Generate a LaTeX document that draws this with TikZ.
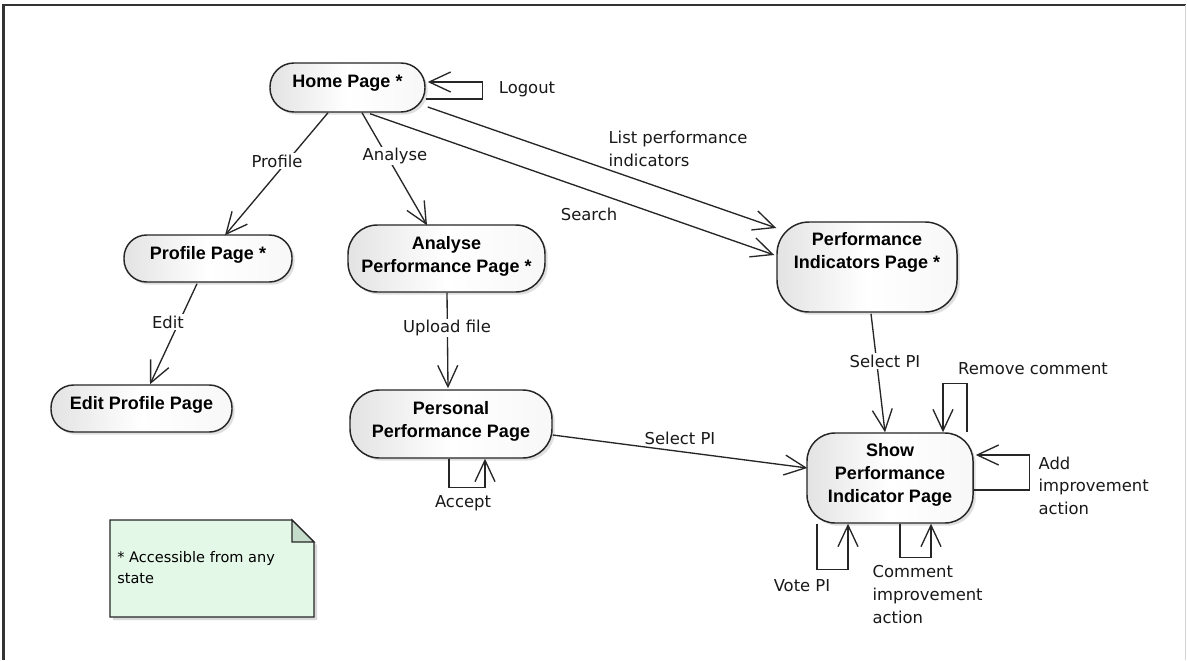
\documentclass[tikz,border=0pt]{standalone}
\usepackage{fontspec}
\setmainfont{DejaVu Sans}
\newfontfamily\statefont{Liberation Sans}
\usetikzlibrary{arrows.meta,calc,shadows}

\definecolor{linegray}{HTML}{262626}
\definecolor{notefill}{HTML}{E4F8E8}
\definecolor{notefold}{HTML}{C6DCCB}

\tikzset{
  state/.style={draw=linegray, line width=1.1pt, inner sep=0pt,
    left color=gray!22, right color=gray!6, middle color=white,
    drop shadow={shadow xshift=2pt, shadow yshift=-2pt, opacity=0.25, fill=gray}},
  statetext/.style={anchor=north, inner sep=0pt, align=center,
    font=\statefont\bfseries\fontsize{13.5}{17.25}\selectfont, text=black},
  lbl/.style={fill=white, inner sep=1pt, align=left,
    font=\fontsize{12.3}{16.9}\selectfont, text=black!90},
  trans/.style={draw=linegray, line width=1pt,
    -{Straight Barb[length=16pt, width=15pt, line width=1pt]}},
}

\begin{document}
\begin{tikzpicture}[x=0.75pt, y=-0.75pt]
  \useasboundingbox (0,0) rectangle (1187,660);
  \fill[white] (0,0) rectangle (1187,660);

  % outer frame
  \draw[line width=1.6pt, black!80] (3.5,660) -- (3.5,5) -- (1186,5);
  \draw[line width=0.8pt, gray!35] (1185.5,5) -- (1185.5,660);

  % states
  \node[state, minimum width=116.25pt, minimum height=36.75pt, rounded corners=18pt] (home) at (347.5,87.5) {};
  \node[state, minimum width=126pt, minimum height=35.25pt, rounded corners=17pt] (prof) at (208,258.5) {};
  \node[state, minimum width=135.75pt, minimum height=35.25pt, rounded corners=17pt] (edit) at (141.5,408.5) {};
  \node[state, minimum width=147.75pt, minimum height=50.25pt, rounded corners=22pt] (anal) at (446.5,258.5) {};
  \node[state, minimum width=151.5pt, minimum height=51pt, rounded corners=22pt] (pers) at (451,424) {};
  \node[state, minimum width=135pt, minimum height=67.5pt, rounded corners=24pt] (pis) at (867,267) {};
  \node[state, minimum width=124.5pt, minimum height=67.5pt, rounded corners=21pt] (show) at (890,478) {};

  % state names
  \node[statetext] (home-t) at ($(home.north)+(0,13)$) {Home Page *};
  \node[statetext] (prof-t) at ($(prof.north)+(0,12)$) {Profile Page *};
  \node[statetext] (edit-t) at ($(edit.north)+(0,11.5)$) {Edit Profile Page};
  \node[statetext] (anal-t) at ($(anal.north)+(0,11.5)$) {Analyse\\Performance Page *};
  \node[statetext] (pers-t) at ($(pers.north)+(0,11.5)$) {Personal\\Performance Page};
  \node[statetext] (pis-t) at ($(pis.north)+(0,10.5)$) {Performance\\Indicators Page *};
  \node[statetext] (show-t) at ($(show.north)+(0,11)$) {Show\\Performance\\Indicator Page};

  % transitions
  \draw[trans] ($(home.south)+(-19.5,0)$) -- ($(prof.north)+(17,1)$);
  \draw[trans] ($(home.south)+(14.5,0)$) -- ($(anal.north)+(-19.5,1)$);
  \draw[trans] ($(home.east)+(2,19.5)$) -- ($(pis.west)+(0,-39)$);
  \draw[trans] ($(home.south)+(22.5,1)$) -- ($(pis.west)+(-2,-12)$);
  \draw[trans] ($(home.east)+(0,11.5)$) -- ++(57,0) -- ++(0,-17) -- ($(home.east)+(2,-5.5)$);
  \draw[trans] ($(prof.south)+(-11,1)$) -- ($(edit.north)+(8.5,0)$);
  \draw[trans] ($(anal.south)+(0.5,0)$) -- ($(pers.north)+(-3,-1)$);
  \draw[trans] ($(pers.east)+(0,11)$) -- ($(show.west)+(1,-10)$);
  \draw[trans] ($(pers.south)+(-2,0)$) -- ++(0,29) -- ++(36,0) -- ($(pers.south)+(34,0)$);
  \draw[trans] ($(pis.south)+(4,1)$) -- ($(show.north)+(-5,0)$);
  \draw[trans] ($(show.north)+(77,0)$) -- ++(0,-49) -- ++(-24,0) -- ($(show.north)+(53,0)$);
  \draw[trans] ($(show.east)+(0,12)$) -- ++(56,0) -- ++(0,-35) -- ($(show.east)+(2,-23)$);
  \draw[trans] ($(show.south)+(-73,0)$) -- ++(0,46) -- ++(31,0) -- ($(show.south)+(-42,0)$);
  \draw[trans] ($(show.south)+(10,0)$) -- ++(0,34) -- ++(31,0) -- ($(show.south)+(41,0)$);

  % transition labels
  \node[lbl] (l-profile) at (277,161) {Profile};
  \node[lbl] (l-analyse) at (395,156) {Analyse};
  \node[lbl, anchor=west] (l-list) at (607,149) {List performance\\indicators};
  \node[lbl] (l-search) at (589,214) {Search};
  \node[lbl] (l-logout) at (527,89) {Logout};
  \node[lbl] (l-edit) at (168,322) {Edit};
  \node[lbl] (l-upload) at (447,328) {Upload file};
  \node[lbl] (l-select1) at (680,438) {Select PI};
  \node[lbl] (l-accept) at (463,503) {Accept};
  \node[lbl] (l-select2) at (885,361) {Select PI};
  \node[lbl] (l-remove) at (1033,369) {Remove comment};
  \node[lbl, anchor=west] (l-add) at (1037,485.5) {Add\\improvement\\action};
  \node[lbl] (l-vote) at (802,586) {Vote PI};
  \node[lbl, anchor=west] (l-comment) at (871,594.5) {Comment\\improvement\\action};

  % note with folded corner and soft shadow
  \fill[gray!30] (113,523) -- (295,523) -- (317,545) -- (317,620) -- (113,620) -- cycle;
  \draw[linegray, line width=1pt, fill=notefill] (110,520) -- (292,520) -- (314,542) -- (314,617) -- (110,617) -- cycle;
  \draw[linegray, line width=1pt, fill=notefold] (292,520) -- (292,542) -- (314,542) -- cycle;
  \node[anchor=west, inner sep=0pt, align=left, font=\fontsize{10.9}{15.75}\selectfont] (note-t) at (117,567.5) {* Accessible from any\\state};
\end{tikzpicture}
\end{document}
